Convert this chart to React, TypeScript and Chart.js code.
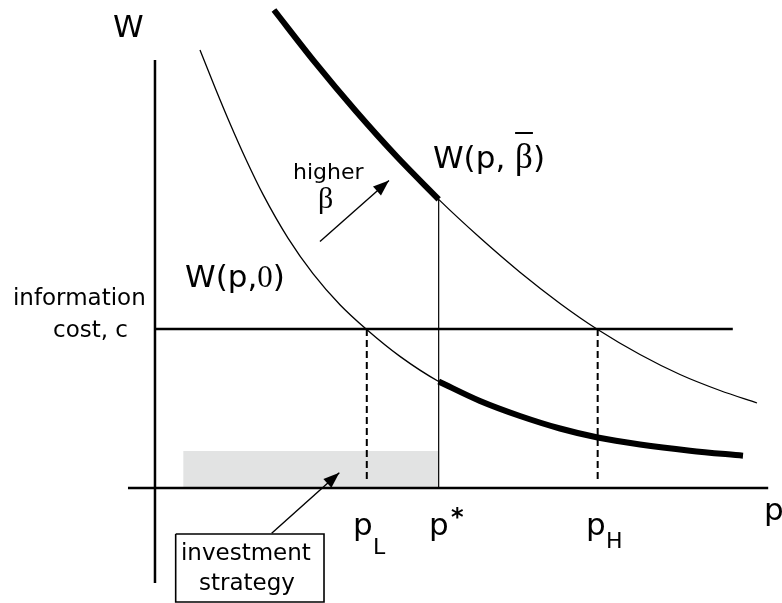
import React, { useEffect, useRef } from "react";
import { Chart, registerables } from "chart.js";

Chart.register(...registerables);

// ---- key values (abstract units: p on the horizontal axis, W on the vertical) ----
const P_L = 3.53;
const P_STAR = 4.728;
const P_H = 7.378;
const COST_C = 3.18;

// W(p, beta-bar) curve
const betaBarP = [1.983, 2.667, 3.35, 4.033, 4.728, 5.417, 6.083, 6.75, 7.378, 8.083, 8.75, 9.417, 10.033];
const betaBarW = [9.56, 8.512, 7.534, 6.624, 5.772, 5.004, 4.316, 3.692, 3.17, 2.67, 2.27, 1.95, 1.7];

// W(p, 0) curve
const zeroP = [0.75, 1.0, 1.25, 1.517, 1.8, 2.217, 2.633, 3.083, 3.528, 4.083, 4.728, 5.417, 6.083, 6.75, 7.378, 8.083, 8.917, 9.8];
const zeroW = [8.76, 8.01, 7.29, 6.57, 5.872, 4.998, 4.288, 3.666, 3.17, 2.632, 2.13, 1.74, 1.44, 1.19, 1.01, 0.87, 0.746, 0.646];

// axes and guide extents
const W_AXIS_RANGE = [-1.9, 8.56];
const P_AXIS_RANGE = [-0.45, 10.22];
const COST_LINE_END = 9.63;
const DASH_BOTTOM = 0.12;

// investment strategy region
const STRATEGY_FROM = 0.47;
const STRATEGY_HEIGHT = 0.74;

// annotation arrows [tail, tip]
const ARROW_BETA = [
  [2.75, 4.93],
  [3.9, 6.15],
];
const ARROW_STRATEGY = [
  [1.945, -0.906],
  [3.072, 0.306],
];

// annotation box
const BOX_P = [0.345, 2.817];
const BOX_W = [-0.92, -2.28];

// view window
const X_MIN = -2.583;
const X_MAX = 10.45;
const Y_MIN = -2.3;
const Y_MAX = 9.76;

const SANS = '"DejaVu Sans", sans-serif';
const SERIF = '"Liberation Serif", serif';

type Run = { t: string; f: string; over?: number };
type Label = { x: number; y: number; runs: Run[] };

const LABELS: Label[] = [
  { x: -0.7, y: 9.02, runs: [{ t: "W", f: `31px ${SANS}` }] },
  {
    x: 4.633,
    y: 6.4,
    runs: [
      { t: "W(p, ", f: `31px ${SANS}` },
      { t: "β", f: `35px ${SERIF}`, over: 36 },
      { t: ")", f: `31px ${SANS}` },
    ],
  },
  {
    x: 0.5,
    y: 4.02,
    runs: [
      { t: "W(p,", f: `31px ${SANS}` },
      { t: "0", f: `31px ${SERIF}` },
      { t: ")", f: `31px ${SANS}` },
    ],
  },
  { x: 2.3, y: 6.18, runs: [{ t: "higher", f: `22px ${SANS}` }] },
  { x: 2.717, y: 5.6, runs: [{ t: "β", f: `30px ${SERIF}` }] },
  { x: -2.367, y: 3.66, runs: [{ t: "information", f: `23px ${SANS}` }] },
  { x: -1.7, y: 3.02, runs: [{ t: "cost, c", f: `23px ${SANS}` }] },
  { x: 0.433, y: -1.44, runs: [{ t: "investment", f: `23px ${SANS}` }] },
  { x: 0.733, y: -2.04, runs: [{ t: "strategy", f: `23px ${SANS}` }] },
  { x: 3.3, y: -0.94, runs: [{ t: "p", f: `31px ${SANS}` }] },
  { x: 3.633, y: -1.32, runs: [{ t: "L", f: `22px ${SANS}` }] },
  { x: 4.567, y: -0.94, runs: [{ t: "p", f: `31px ${SANS}` }] },
  { x: 4.933, y: -0.73, runs: [{ t: "*", f: `bold 24px ${SANS}` }] },
  { x: 7.183, y: -0.94, runs: [{ t: "p", f: `31px ${SANS}` }] },
  { x: 7.517, y: -1.2, runs: [{ t: "H", f: `22px ${SANS}` }] },
  { x: 10.15, y: -0.64, runs: [{ t: "p", f: `31px ${SANS}` }] },
];

const pts = (ps: number[], ws: number[]) => ps.map((p, i) => ({ x: p, y: ws[i] }));

const labelPlugin = {
  id: "diagramLabels",
  afterDatasetsDraw(chart: any) {
    const { ctx, scales } = chart;
    const xs = scales.x;
    const ys = scales.y;
    ctx.save();
    // arrowheads
    chart.data.datasets.forEach((ds: any, i: number) => {
      if (!ds.arrowHead) return;
      const meta = chart.getDatasetMeta(i);
      if (!meta || meta.hidden) return;
      const d = ds.data;
      const a = d[d.length - 2];
      const b = d[d.length - 1];
      const x0 = xs.getPixelForValue(a.x);
      const y0 = ys.getPixelForValue(a.y);
      const x1 = xs.getPixelForValue(b.x);
      const y1 = ys.getPixelForValue(b.y);
      const ang = Math.atan2(y1 - y0, x1 - x0);
      const len = 16;
      const half = 6;
      ctx.beginPath();
      ctx.moveTo(x1, y1);
      ctx.lineTo(
        x1 - len * Math.cos(ang) + half * Math.sin(ang),
        y1 - len * Math.sin(ang) - half * Math.cos(ang)
      );
      ctx.lineTo(
        x1 - len * Math.cos(ang) - half * Math.sin(ang),
        y1 - len * Math.sin(ang) + half * Math.cos(ang)
      );
      ctx.closePath();
      ctx.fillStyle = "#000";
      ctx.fill();
    });
    // texts
    ctx.fillStyle = "#000";
    ctx.textBaseline = "alphabetic";
    ctx.textAlign = "left";
    LABELS.forEach((lab) => {
      let x = xs.getPixelForValue(lab.x);
      const y = ys.getPixelForValue(lab.y);
      lab.runs.forEach((r) => {
        ctx.font = r.f;
        ctx.fillText(r.t, x, y);
        const w = ctx.measureText(r.t).width;
        if (r.over) {
          ctx.fillRect(x, y - r.over, w, 2);
        }
        x += w;
      });
    });
    ctx.restore();
  },
};

export default function App() {
  const ref = useRef<HTMLCanvasElement | null>(null);

  useEffect(() => {
    if (!ref.current) return;
    const upper = pts(betaBarP, betaBarW);
    const lower = pts(zeroP, zeroW);
    const upperThick = upper.filter((d) => d.x <= P_STAR);
    const lowerThick = lower.filter((d) => d.x >= P_STAR);
    const wAtStar = betaBarW[betaBarP.indexOf(P_STAR)];

    const line = (data: any[], width: number, extra: any = {}) => ({
      data,
      showLine: true,
      borderColor: "#000",
      backgroundColor: "#000",
      borderWidth: width,
      pointRadius: 0,
      pointHoverRadius: 0,
      tension: 0,
      fill: false,
      clip: false,
      ...extra,
    });
    const curve = { cubicInterpolationMode: "monotone" };

    const chart = new Chart(ref.current, {
      type: "scatter",
      data: {
        datasets: [
          line(upperThick, 6, curve),
          line(lowerThick, 6, curve),
          line(upper, 1.3, curve),
          line(lower, 1.3, curve),
          line(
            [
              { x: 0, y: W_AXIS_RANGE[0] },
              { x: 0, y: W_AXIS_RANGE[1] },
            ],
            2.5
          ),
          line(
            [
              { x: P_AXIS_RANGE[0], y: 0 },
              { x: P_AXIS_RANGE[1], y: 0 },
            ],
            2.5
          ),
          line(
            [
              { x: 0, y: COST_C },
              { x: COST_LINE_END, y: COST_C },
            ],
            2.3
          ),
          line(
            [
              { x: P_STAR, y: 0 },
              { x: P_STAR, y: wAtStar },
            ],
            1.2
          ),
          line(
            [
              { x: P_L, y: COST_C },
              { x: P_L, y: DASH_BOTTOM },
            ],
            2,
            { borderDash: [7, 4] }
          ),
          line(
            [
              { x: P_H, y: COST_C },
              { x: P_H, y: DASH_BOTTOM },
            ],
            2,
            { borderDash: [7, 4] }
          ),
          line(
            ARROW_BETA.map(([x, y]) => ({ x, y })),
            1.4,
            { arrowHead: true }
          ),
          line(
            ARROW_STRATEGY.map(([x, y]) => ({ x, y })),
            1.4,
            { arrowHead: true }
          ),
          line(
            [
              { x: BOX_P[0], y: BOX_W[0] },
              { x: BOX_P[1], y: BOX_W[0] },
              { x: BOX_P[1], y: BOX_W[1] },
              { x: BOX_P[0], y: BOX_W[1] },
              { x: BOX_P[0], y: BOX_W[0] },
            ],
            1.6,
            { borderJoinStyle: "miter" }
          ),
          {
            data: [
              { x: STRATEGY_FROM, y: STRATEGY_HEIGHT },
              { x: P_STAR, y: STRATEGY_HEIGHT },
            ],
            showLine: true,
            borderWidth: 0,
            borderColor: "rgba(0,0,0,0)",
            backgroundColor: "#e2e3e3",
            pointRadius: 0,
            fill: "origin",
            clip: false,
            order: 10,
          },
        ],
      },
      options: {
        animation: false,
        responsive: false,
        events: [],
        layout: { padding: 0 },
        plugins: {
          legend: { display: false },
          tooltip: { enabled: false },
          title: { display: false },
        },
        scales: {
          x: { type: "linear", min: X_MIN, max: X_MAX, display: false },
          y: { type: "linear", min: Y_MIN, max: Y_MAX, display: false },
        },
      },
      plugins: [labelPlugin],
    } as any);
    return () => chart.destroy();
  }, []);

  return (
    <div
      style={{
        position: "fixed",
        left: 0,
        top: 0,
        width: 782,
        height: 603,
        background: "#fff",
      }}
    >
      <canvas ref={ref} width={782} height={603} style={{ display: "block" }} />
    </div>
  );
}
